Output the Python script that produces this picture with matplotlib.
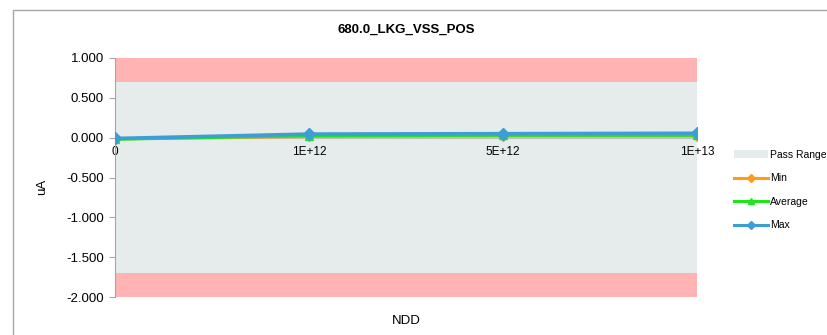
import matplotlib
matplotlib.use("Agg")
import matplotlib.pyplot as plt
from matplotlib.patches import Rectangle, Patch

plt.rcParams["font.family"] = ["Liberation Sans", "DejaVu Sans"]

TITLE = "680.0_LKG_VSS_POS"
CATEGORIES = ["0", "1E+12", "5E+12", "1E+13"]
MIN_VALS = [-0.015, 0.015, 0.020, 0.020]
AVG_VALS = [-0.020, 0.025, 0.030, 0.030]
MAX_VALS = [-0.010, 0.045, 0.050, 0.055]
PASS_LOW = -1.7
PASS_HIGH = 0.7
Y_MIN, Y_MAX = -2.0, 1.0

fig = plt.figure(figsize=(8.28, 3.35), dpi=100)
ax = fig.add_axes([115 / 828, 1 - 297 / 335, (697 - 115) / 828, (297 - 58) / 335])

# chart frame
fig.patches.append(Rectangle((13 / 828, -0.1), 1.2, 1 - 10 / 335 + 0.1,
                             transform=fig.transFigure, fill=False,
                             edgecolor="#a6a6a6", linewidth=1.0))

x = list(range(len(CATEGORIES)))

# fail bands and pass range
ax.fill_between(x, Y_MIN, Y_MAX, color="#ffb3b3", linewidth=0, zorder=0)
ax.fill_between(x, PASS_LOW, PASS_HIGH, color="#e6ebeb", linewidth=0, zorder=1)

ax.plot(x, MIN_VALS, color="#ff9a1a", linewidth=2.2, marker="D", markersize=5, zorder=3)
ax.plot(x, AVG_VALS, color="#1ee61e", linewidth=2.2, marker="^", markersize=6, zorder=4)
ax.plot(x, MAX_VALS, color="#3b9fd6", linewidth=2.6, marker="D", markersize=6, zorder=5)

ax.set_xlim(0, len(CATEGORIES) - 1)
ax.set_ylim(Y_MIN, Y_MAX)
ax.set_yticks([1.0, 0.5, 0.0, -0.5, -1.0, -1.5, -2.0])
ax.set_yticklabels([f"{v:.3f}" for v in [1.0, 0.5, 0.0, -0.5, -1.0, -1.5, -2.0]], fontsize=9.5)
ax.tick_params(axis="y", length=4, color="#a6a6a6", pad=4)

ax.spines["bottom"].set_position(("data", 0))
ax.spines["bottom"].set_color("#bfbfbf")
ax.spines["bottom"].set_zorder(2)
ax.spines["top"].set_visible(False)
ax.spines["right"].set_visible(False)
ax.spines["left"].set_color("#a6a6a6")
ax.set_xticks(x)
ax.set_xticklabels(CATEGORIES, fontsize=8.5)
ax.tick_params(axis="x", length=0, pad=6)

ax.set_xlabel("NDD", fontsize=9.5)
ax.xaxis.set_label_coords(0.5, -0.075)
ax.set_ylabel("uA", fontsize=9.5)
ax.yaxis.set_label_coords(-0.115, 0.46)

fig.text(0.5 * (115 + 697) / 828, 1 - 30 / 335, TITLE, ha="center", va="center",
         fontsize=9.5, fontweight="bold")

handles = [
    Patch(facecolor="#e6ebeb", edgecolor="none", label="Pass Range"),
    plt.Line2D([], [], color="#ff9a1a", linewidth=2.2, marker="D", markersize=4, label="Min"),
    plt.Line2D([], [], color="#1ee61e", linewidth=2.2, marker="^", markersize=5, label="Average"),
    plt.Line2D([], [], color="#3b9fd6", linewidth=2.2, marker="D", markersize=4, label="Max"),
]
fig.legend(handles=handles, loc="center left", bbox_to_anchor=(725 / 828, 1 - 190 / 335),
           frameon=False, fontsize=7.5, handlelength=3.2, labelspacing=1.3,
           handletextpad=0.2)

fig.savefig("out.png", dpi=100)
